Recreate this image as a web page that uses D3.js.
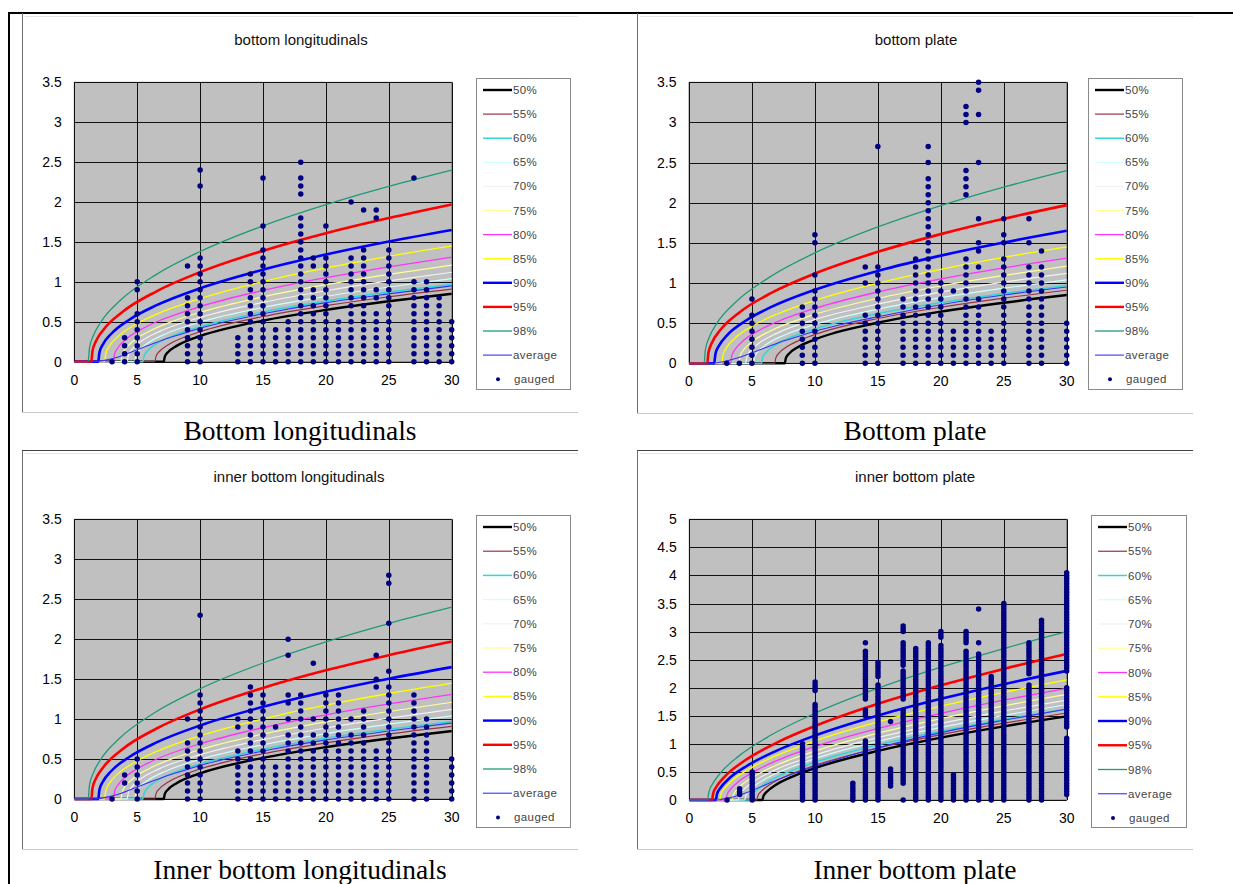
<!DOCTYPE html>
<html><head><meta charset="utf-8">
<script src="https://cdn.jsdelivr.net/npm/d3@7"></script>
<style>body{margin:0;background:#fff} svg{display:block}</style>
</head><body>
<svg id="c" width="1233" height="884"></svg>
<script>
// ---------- DATA ----------
const seriesLabels = ["50%","55%","60%","65%","70%","75%","80%","85%","90%","95%","98%","average"];
const gaugedLabel = "gauged";
const xTicks = [0,5,10,15,20,25,30];
const yTicksA = [0,0.5,1,1.5,2,2.5,3,3.5];
const yTicksB = [0,0.5,1,1.5,2,2.5,3,3.5,4,4.5,5];
const panelTitles = ["bottom longitudinals","bottom plate","inner bottom longitudinals","inner bottom plate"];
const captions = ["Bottom longitudinals","Bottom plate","Inner bottom longitudinals","Inner bottom plate"];

// percentile curves, bottom longitudinals (also inner bottom longitudinals)
const curvesBL = [
 [[0,0],[7.1,0],[7.2,0.066],[7.5,0.127],[8.1,0.195],[9.6,0.300],[10,0.322],[15,0.515],[20,0.649],[25,0.757],[30,0.85]],
 [[0,0],[6.4,0],[6.5,0.070],[6.8,0.134],[7.4,0.206],[8.9,0.317],[10,0.376],[15,0.566],[20,0.702],[25,0.814],[30,0.91]],
 [[0,0],[5.45,0],[5.55,0.073],[5.85,0.140],[6.45,0.216],[7.95,0.331],[10,0.439],[15,0.622],[20,0.759],[25,0.872],[30,0.97]],
 [[0,0],[4.8,0],[4.9,0.077],[5.2,0.148],[5.8,0.228],[7.3,0.351],[10,0.495],[15,0.679],[20,0.819],[25,0.936],[30,1.04]],
 [[0,0],[4.2,0],[4.3,0.082],[4.6,0.158],[5.2,0.243],[6.7,0.374],[10,0.555],[15,0.744],[20,0.889],[25,1.012],[30,1.12]],
 [[0,0],[3.7,0],[3.8,0.088],[4.1,0.169],[4.7,0.260],[6.2,0.400],[8,0.516],[10,0.618],[15,0.813],[20,0.965],[25,1.095],[30,1.21]],
 [[0,0],[3.1,0],[3.2,0.094],[3.5,0.181],[4.1,0.279],[5.6,0.429],[7,0.529],[10,0.691],[15,0.893],[20,1.053],[25,1.189],[30,1.31]],
 [[0,0],[2.4,0],[2.5,0.103],[2.8,0.198],[3.4,0.305],[4.9,0.469],[6.5,0.592],[10,0.791],[15,1.003],[20,1.174],[25,1.320],[30,1.45]],
 [[0,0],[1.9,0],[2.0,0.117],[2.3,0.224],[2.9,0.344],[4.4,0.529],[6.5,0.705],[10,0.920],[15,1.153],[20,1.342],[25,1.505],[30,1.65]],
 [[0,0],[1.35,0],[1.45,0.138],[1.75,0.265],[2.35,0.407],[3.85,0.626],[6.5,0.879],[10,1.122],[15,1.390],[20,1.610],[25,1.800],[30,1.97]],
 [[0,0],[1.1,0],[1.2,0.167],[1.5,0.321],[2.1,0.494],[3.6,0.760],[6.5,1.091],[10,1.380],[15,1.702],[20,1.967],[25,2.196],[30,2.4]],
 [[0,0],[1.5,0],[2.5,0.02],[3.5,0.06],[5,0.15],[7,0.27],[9,0.37],[10,0.42],[12,0.5],[15,0.6],[20,0.74],[25,0.85],[30,0.95]]
];
// percentile curves, bottom plate
const curvesBP = [
 [[0,0],[7.6,0],[7.7,0.067],[8.0,0.128],[8.6,0.197],[10,0.297],[15,0.505],[20,0.643],[25,0.754],[30,0.85]],
 [[0,0],[6.8,0],[6.9,0.070],[7.2,0.135],[7.8,0.208],[9.3,0.319],[10,0.359],[15,0.558],[20,0.698],[25,0.812],[30,0.91]],
 [[0,0],[5.75,0],[5.85,0.074],[6.15,0.141],[6.75,0.217],[8.25,0.333],[10,0.428],[15,0.617],[20,0.756],[25,0.870],[30,0.97]],
 [[0,0],[5.1,0],[5.2,0.078],[5.5,0.149],[6.1,0.230],[7.6,0.353],[10,0.484],[15,0.674],[20,0.817],[25,0.936],[30,1.04]],
 [[0,0],[4.5,0],[4.6,0.083],[4.9,0.159],[5.5,0.244],[7,0.376],[10,0.545],[15,0.738],[20,0.886],[25,1.011],[30,1.12]],
 [[0,0],[3.95,0],[4.05,0.089],[4.35,0.170],[4.95,0.261],[6.45,0.402],[10,0.609],[15,0.809],[20,0.963],[25,1.094],[30,1.21]],
 [[0,0],[3.3,0],[3.4,0.095],[3.7,0.182],[4.3,0.280],[5.8,0.430],[7.5,0.549],[10,0.684],[15,0.889],[20,1.051],[25,1.189],[30,1.31]],
 [[0,0],[2.6,0],[2.7,0.104],[3.0,0.199],[3.6,0.306],[5.1,0.470],[7,0.614],[10,0.784],[15,0.999],[20,1.171],[25,1.319],[30,1.45]],
 [[0,0],[2.0,0],[2.1,0.117],[2.4,0.224],[3.0,0.345],[4.5,0.530],[6.5,0.699],[10,0.916],[15,1.151],[20,1.341],[25,1.504],[30,1.65]],
 [[0,0],[1.45,0],[1.55,0.138],[1.85,0.265],[2.45,0.408],[3.95,0.627],[6.5,0.873],[10,1.118],[15,1.388],[20,1.609],[25,1.800],[30,1.97]],
 [[0,0],[1.2,0],[1.3,0.168],[1.6,0.321],[2.2,0.495],[3.7,0.761],[6.5,1.083],[10,1.375],[15,1.698],[20,1.964],[25,2.194],[30,2.4]],
 [[0,0],[1.7,0],[2.7,0.02],[3.7,0.06],[5,0.13],[7,0.25],[9,0.35],[10,0.4],[12,0.48],[15,0.58],[20,0.73],[25,0.85],[30,0.95]]
];
// percentile curves, inner bottom plate
const curvesIBP = [
 [[0,0],[5.8,0],[5.9,0.073],[6.2,0.156],[6.8,0.258],[8.3,0.427],[10,0.569],[15,0.875],[20,1.111],[25,1.312],[30,1.49]],
 [[0,0],[5.35,0],[5.45,0.075],[5.75,0.161],[6.35,0.266],[7.85,0.440],[10,0.619],[15,0.925],[20,1.164],[25,1.368],[30,1.55]],
 [[0,0],[4.9,0],[5.0,0.078],[5.3,0.166],[5.9,0.275],[7.4,0.455],[10,0.674],[15,0.982],[20,1.225],[25,1.434],[30,1.62]],
 [[0,0],[4.4,0],[4.5,0.081],[4.8,0.173],[5.4,0.286],[6.9,0.473],[10,0.737],[15,1.047],[20,1.295],[25,1.508],[30,1.70]],
 [[0,0],[3.9,0],[4.0,0.083],[4.3,0.179],[4.9,0.296],[6.4,0.490],[10,0.800],[15,1.112],[20,1.365],[25,1.584],[30,1.78]],
 [[0,0],[3.4,0],[3.5,0.087],[3.8,0.187],[4.4,0.309],[5.9,0.512],[8,0.716],[10,0.873],[15,1.191],[20,1.451],[25,1.677],[30,1.88]],
 [[0,0],[2.9,0],[3.0,0.091],[3.3,0.196],[3.9,0.324],[5.4,0.537],[7.5,0.751],[10,0.953],[15,1.277],[20,1.545],[25,1.779],[30,1.99]],
 [[0,0],[2.4,0],[2.5,0.097],[2.8,0.208],[3.4,0.345],[4.9,0.571],[7,0.799],[10,1.053],[15,1.390],[20,1.671],[25,1.917],[30,2.14]],
 [[0,0],[2.1,0],[2.2,0.104],[2.5,0.223],[3.1,0.369],[4.6,0.610],[7,0.884],[10,1.149],[15,1.505],[20,1.802],[25,2.063],[30,2.3]],
 [[0,0],[1.8,0],[1.9,0.117],[2.2,0.250],[2.8,0.414],[4.3,0.686],[7,1.026],[10,1.318],[15,1.713],[20,2.043],[25,2.335],[30,2.6]],
 [[0,0],[1.45,0],[1.55,0.134],[1.85,0.287],[2.45,0.475],[3.95,0.786],[6.5,1.157],[10,1.546],[15,1.991],[20,2.366],[25,2.698],[30,3.0]],
 [[0,0],[2.2,0],[3,0.03],[4,0.09],[5,0.17],[7,0.36],[10,0.6],[15,0.93],[20,1.2],[25,1.42],[30,1.62]]
];
// gauged points as runs: [year, lowest, highest]
const gaugedBL = [[3,0,0],[4,0,0.3],[5,0,0.6],[5,0.9,1.0],[9,0,0.8],[9,1.2,1.2],[10,0,1.3],[10,2.2,2.2],[10,2.4,2.4],
 [13,0,0.3],[14,0,1.1],[15,0,1.4],[15,1.7,1.7],[15,2.3,2.3],[16,0,0.4],[17,0,0.5],[18,0,1.8],[18,2.1,2.3],[18,2.5,2.5],
 [19,0,0.9],[19,1.2,1.3],[20,0,1.3],[20,1.7,1.7],[21,0,0.5],[22,0,1.3],[22,2.0,2.0],[23,0,1.4],[23,1.9,1.9],
 [24,0,0.6],[24,0.8,0.9],[24,1.8,1.9],[25,0,1.4],[27,0,1.0],[27,2.3,2.3],[28,0,1.0],[29,0,0.8],[30,0,0.5]];
const gaugedBP = [[3,0,0],[4,0,0],[5,0,0.6],[5,0.8,0.8],[9,0,0.7],[10,0,0.9],[10,1.1,1.1],[10,1.5,1.6],
 [14,0,0.6],[14,1.0,1.0],[14,1.2,1.2],[15,0,1.2],[15,2.7,2.7],[17,0,0.8],[18,0,1.3],[19,0,2.3],[19,2.5,2.5],[19,2.7,2.7],
 [20,0,1.0],[21,0,0.4],[21,0.9,0.9],[22,0,1.3],[22,2.1,2.4],[22,3.0,3.2],[23,0,0.8],[23,1.2,1.2],[23,1.4,1.5],[23,1.8,1.8],
 [23,2.5,2.5],[23,3.1,3.1],[23,3.4,3.5],[24,0,0.4],[25,0,1.3],[25,1.5,1.6],[25,1.8,1.8],[27,0,1.2],[27,1.5,1.5],[27,1.8,1.8],
 [28,0,1.2],[28,1.4,1.4],[30,0,0.5]];
const gaugedIBL = [[3,0,0],[4,0.2,0.3],[5,0,0.5],[9,0,0.7],[9,1.0,1.0],[10,0,1.3],[10,2.3,2.3],[13,0,0.6],[13,0.9,1.0],
 [14,0,1.4],[15,0,1.3],[16,0,0.4],[16,0.9,0.9],[17,0,0.8],[17,1.0,1.0],[17,1.2,1.3],[17,1.8,1.8],[17,2.0,2.0],[18,0,1.3],
 [19,0,0.8],[19,1.0,1.0],[19,1.7,1.7],[20,0,1.3],[21,0,1.3],[22,0,0.8],[22,1.0,1.0],[23,0,1.1],[24,0,0.6],[24,1.4,1.5],
 [24,1.8,1.8],[25,0,1.4],[25,1.6,1.6],[25,2.2,2.2],[25,2.7,2.8],[27,0,1.3],[28,0,1.0],[30,0,0.5]];
const gaugedIBP = [[3,0,0],[4,0.1,0.2],[5,0,0.5],[9,0,1.0],[10,0,1.7],[10,1.95,2.1],[13,0,0.3],[14,0,1.05],[14,1.5,1.6],
 [14,1.8,2.65],[14,2.8,2.8],[15,0,2.05],[15,2.2,2.45],[16,0.25,0.55],[16,1.4,1.4],[17,0,0],[17,0.3,1.6],[17,1.8,2.3],
 [17,2.4,2.8],[17,3.0,3.1],[18,0,2.7],[19,0,2.8],[20,0,2.75],[20,2.9,3.0],[21,0,0.45],[22,0,2.65],[22,2.8,3.0],
 [23,0,2.6],[23,2.8,2.8],[23,3.4,3.4],[24,0,2.2],[25,0,3.5],[27,0,2.05],[27,2.25,2.8],[28,0,3.2],
 [30,0.1,1.1],[30,1.3,2.0],[30,2.3,4.05]];

// ---------- STYLES / LAYOUT ----------
const lineColors = ["#000000","#9c3040","#33d6d6","#ccffff","#f2f2f2","#ffff99","#ff33ff","#ffff00","#0000ff","#ff0000","#1f9a78","#3333ff"];
const lineWidths = [2.4,1.2,1.5,1.2,1.2,1.2,1.3,1.3,2.6,2.6,1.3,1.1];
const dotColor = "#000080";

const panels = [
 {frame:[22,13,578,412], plot:[74.3,451.7,82.3,361.7], yt:yTicksA, title:[301,40], legend:[476,78,94,311], first:90, step:24.1, curves:curvesBL, gauged:gaugedBL, per:10, caption:[300,440]},
 {frame:[637,13,1193,413], plot:[689,1066.7,82.3,363.3], yt:yTicksA, title:[916,40], legend:[1088,78,94,311], first:90, step:24.1, curves:curvesBP, gauged:gaugedBP, per:10, caption:[915,440]},
 {frame:[22,450,578,849], plot:[74.3,451.7,519.3,799], yt:yTicksA, title:[299,477], legend:[476,515,94,312], first:527, step:24.2, curves:curvesBL, gauged:gaugedIBL, per:10, caption:[300,879]},
 {frame:[637,450,1193,849], plot:[689.3,1066.7,519.3,800], yt:yTicksB, title:[915,477], legend:[1091,515,95,312], first:527, step:24.25, curves:curvesIBP, gauged:gaugedIBP, per:20, caption:[915,879]}
];

const svg = d3.select("#c");
const sans = "'Liberation Sans', Arial, sans-serif";

// table borders
svg.append("line").attr("x1",8).attr("x2",1233).attr("y1",13).attr("y2",13).attr("stroke","#000").attr("stroke-width",2);
svg.append("line").attr("x1",9).attr("x2",9).attr("y1",12).attr("y2",884).attr("stroke","#000").attr("stroke-width",2);

panels.forEach((p, pi) => {
  const g = svg.append("g");
  const [fx0, fy0, fx1, fy1] = p.frame;
  // chart-area frame
  g.append("line").attr("x1",fx0+0.5).attr("x2",fx0+0.5).attr("y1",fy0).attr("y2",fy1).attr("stroke","#6d6d6d");
  g.append("line").attr("x1",fx0).attr("x2",fx1).attr("y1",fy1+0.5).attr("y2",fy1+0.5).attr("stroke","#c8c8c8");
  if (pi >= 2) g.append("line").attr("x1",fx0).attr("x2",fx1).attr("y1",fy0+0.5).attr("y2",fy0+0.5).attr("stroke","#444");
  g.append("line").attr("x1",fx0+3).attr("x2",fx1).attr("y1",fy0+3.5).attr("y2",fy0+3.5).attr("stroke","#e6e6e6");

  const [l, r, t, b] = p.plot;
  const ymax = p.yt[p.yt.length-1];
  const x = d3.scaleLinear().domain([0,30]).range([l, r]);
  const y = d3.scaleLinear().domain([0,ymax]).range([b, t]);

  g.append("rect").attr("x",l).attr("y",t).attr("width",r-l).attr("height",b-t).attr("fill","#c0c0c0").attr("stroke","#808080");

  // grid
  g.selectAll(".gx").data(xTicks).enter().append("line")
    .attr("x1",d=>Math.round(x(d))+0.5).attr("x2",d=>Math.round(x(d))+0.5).attr("y1",t).attr("y2",b)
    .attr("stroke","#111").attr("stroke-width",1);
  g.selectAll(".gy").data(p.yt).enter().append("line")
    .attr("y1",d=>Math.round(y(d))+0.5).attr("y2",d=>Math.round(y(d))+0.5).attr("x1",l).attr("x2",r)
    .attr("stroke","#111").attr("stroke-width",1);

  // tick labels
  g.selectAll(".tx").data(xTicks).enter().append("text")
    .attr("x",d=>x(d)).attr("y",b+23).attr("text-anchor","middle")
    .attr("font-family",sans).attr("font-size",14).attr("fill","#000").text(d=>d3.format("~g")(d));
  g.selectAll(".ty").data(p.yt).enter().append("text")
    .attr("x",l-12.5).attr("y",d=>y(d)+5).attr("text-anchor","end")
    .attr("font-family",sans).attr("font-size",14).attr("fill","#000").text(d=>d3.format("~g")(d));

  // title
  g.append("text").attr("x",p.title[0]).attr("y",p.title[1]+5).attr("text-anchor","middle")
    .attr("font-family",sans).attr("font-size",15).attr("fill","#111").text(panelTitles[pi]);

  // curves
  const clipId = "clip"+pi;
  svg.append("clipPath").attr("id",clipId).append("rect").attr("x",l).attr("y",t-2).attr("width",r-l+2).attr("height",b-t+4);
  const line = d3.line().x(d=>x(d[0])).y(d=>y(d[1])).curve(d3.curveMonotoneX);
  const cg = g.append("g").attr("clip-path",`url(#${clipId})`);
  p.curves.forEach((c, i) => {
    cg.append("path").attr("d",line(c)).attr("fill","none")
      .attr("stroke",lineColors[i]).attr("stroke-width",lineWidths[i]).attr("stroke-linejoin","round");
  });

  // gauged points
  const pts = [];
  p.gauged.forEach(([gx, lo, hi]) => {
    d3.range(Math.round(lo*p.per), Math.round(hi*p.per)+1).forEach(k => pts.push([gx, k/p.per]));
  });
  g.append("g").selectAll("circle").data(pts).enter().append("circle")
    .attr("cx",d=>x(d[0])).attr("cy",d=>y(d[1])).attr("r",2.75).attr("fill",dotColor);

  // legend
  const [lx, ly, lw, lh] = p.legend;
  const lg = g.append("g");
  lg.append("rect").attr("x",lx+0.5).attr("y",ly+0.5).attr("width",lw).attr("height",lh).attr("fill","#fff").attr("stroke","#8a8a8a");
  seriesLabels.forEach((s, i) => {
    const yy = p.first + i*p.step;
    lg.append("line").attr("x1",lx+7).attr("x2",lx+36).attr("y1",yy).attr("y2",yy)
      .attr("stroke",lineColors[i]).attr("stroke-width",Math.min(lineWidths[i],2.4));
    lg.append("text").attr("x",lx+37).attr("y",yy+4).attr("font-family",sans).attr("font-size",11.5)
      .attr("letter-spacing",0.4).attr("fill","#444").text(s);
  });
  const gy = p.first + 12*p.step;
  lg.append("circle").attr("cx",lx+22).attr("cy",gy).attr("r",2).attr("fill",dotColor);
  lg.append("text").attr("x",lx+38).attr("y",gy+4).attr("font-family",sans).attr("font-size",11.5)
    .attr("letter-spacing",0.4).attr("fill","#444").text(gaugedLabel);

  // caption
  svg.append("text").attr("x",p.caption[0]).attr("y",p.caption[1]).attr("text-anchor","middle")
    .attr("font-family","'Liberation Serif','Times New Roman',serif").attr("font-size",27.5).attr("fill","#000")
    .text(captions[pi]);
});
</script>
</body></html>
